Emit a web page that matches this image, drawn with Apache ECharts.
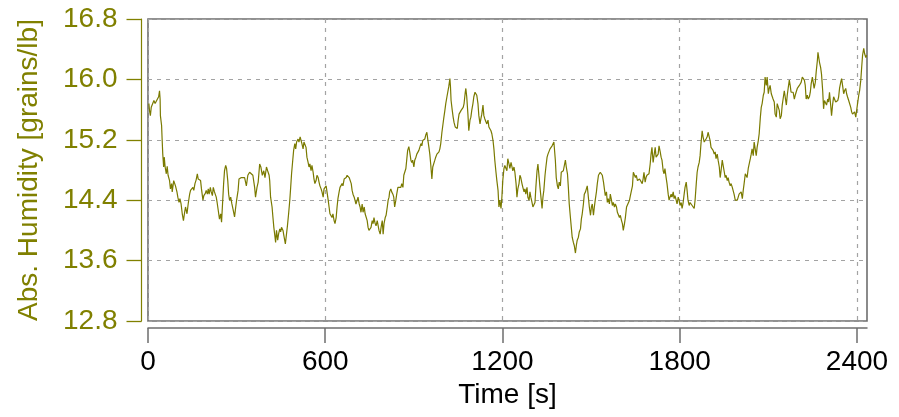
<!DOCTYPE html>
<html>
<head>
<meta charset="utf-8">
<script src="https://cdn.jsdelivr.net/npm/echarts@6/dist/echarts.min.js"></script>
<style>
  html, body { margin: 0; padding: 0; background: #fff; }
  #main { width: 899px; height: 417px; }
</style>
</head>
<body>
<div id="main"></div>
<script>
// [time s, abs. humidity grains/lb]
var seg1 = [[3,15.68],[5,15.59],[8,15.52],[11,15.63],[16,15.68],[20,15.72],[24,15.68],[28,15.71],[31,15.69],[36,15.77],[39,15.85],[41,15.74],[42,15.52],[46,15.39],[48,15.19],[50,15.01],[53,14.84],[55,14.97],[58,14.84],[62,14.75],[65,14.85],[68,14.73],[73,14.66],[76,14.55],[80,14.62],[82,14.51],[87,14.66],[90,14.68],[93,14.59],[98,14.51],[101,14.44],[105,14.37],[108,14.42],[112,14.35],[116,14.22],[120,14.13],[124,14.24],[127,14.31],[132,14.22],[136,14.35],[141,14.48],[144,14.53],[147,14.51],[152,14.57],[155,14.53],[159,14.62],[163,14.67],[167,14.75],[170,14.68],[175,14.70],[178,14.66],[181,14.55],[186,14.40],[189,14.46],[194,14.49],[197,14.53],[201,14.48],[204,14.55],[207,14.48],[211,14.57],[214,14.51],[218,14.46],[221,14.57],[225,14.51],[231,14.44],[234,14.37],[238,14.26],[242,14.15],[246,14.22],[249,14.11],[253,14.40],[256,14.62],[259,14.79],[263,14.86],[266,14.82],[270,14.66],[273,14.48],[276,14.40],[280,14.44],[284,14.35],[289,14.26],[293,14.18],[297,14.31],[300,14.40],[305,14.53],[308,14.68],[311,14.66],[316,14.70],[321,14.68],[327,14.70],[333,14.59],[338,14.73],[344,14.77],[350,14.75],[355,14.73],[361,14.57],[364,14.44],[369,14.57],[373,14.64],[378,14.88],[382,14.84],[387,14.73],[392,14.79],[396,14.70],[401,14.84],[405,14.79],[410,14.73]];

var seg2 = [[412,14.66],[415,14.44],[420,14.31],[423,14.17],[426,14.04],[430,13.91],[432,13.84],[435,14.00],[439,13.87],[442,13.95],[446,14.02],[449,13.98],[452,14.04],[457,14.00],[460,13.93],[465,13.82],[468,13.84],[472,14.06],[476,14.22],[480,14.40],[483,14.57],[486,14.75],[490,14.93],[493,15.06],[497,15.15],[500,15.08],[503,15.17],[508,15.21],[511,15.17],[515,15.24],[518,15.26],[521,15.15],[525,15.08],[528,15.17],[532,15.19],[535,15.10],[538,14.97],[542,14.90],[545,14.84],[548,14.88],[552,14.79],[555,14.86],[559,14.77],[562,14.68],[565,14.62],[569,14.66],[572,14.73],[576,14.70],[579,14.64],[582,14.59],[586,14.55],[589,14.51],[593,14.44],[596,14.55],[599,14.57],[603,14.59],[606,14.51],[610,14.40],[613,14.31],[616,14.22],[620,14.24],[623,14.17],[626,14.22],[630,14.13],[633,14.09],[637,14.17],[640,14.31],[643,14.42],[647,14.51],[650,14.57],[654,14.59],[657,14.62],[660,14.59],[664,14.68],[667,14.66],[671,14.70],[674,14.73],[677,14.75],[681,14.70],[684,14.68],[688,14.62],[691,14.53],[694,14.48],[698,14.44],[701,14.46],[704,14.35],[708,14.40],[711,14.44],[715,14.35],[718,14.31],[721,14.24],[725,14.35],[728,14.24],[732,14.31],[735,14.22],[738,14.20],[742,14.13],[745,14.04],[748,14.00],[752,13.98],[755,14.04],[759,14.13],[762,14.09],[765,14.17],[769,14.09],[772,14.06],[776,14.13],[779,14.11],[782,14.00],[786,13.95],[789,14.04],[793,14.13],[796,13.95],[799,14.09],[803,14.17],[806,14.20],[810,14.31],[813,14.40],[816,14.44]];

var seg3 = [[818,14.51],[822,14.55],[825,14.51],[829,14.48],[832,14.44],[835,14.31],[839,14.40],[842,14.48],[846,14.57],[849,14.55],[852,14.59],[856,14.57],[859,14.62],[863,14.57],[866,14.73],[869,14.75],[873,14.82],[876,14.84],[879,15.06],[883,15.11],[886,15.04],[890,14.93],[893,14.90],[896,14.93],[900,14.84],[903,14.93],[907,14.97],[910,15.01],[913,14.99],[917,15.06],[920,15.08],[924,15.15],[927,15.12],[930,15.19],[934,15.17],[937,15.21],[940,15.26],[944,15.30],[947,15.21],[951,15.10],[954,15.01],[957,14.88],[961,14.68],[964,14.84],[968,14.86],[971,14.93],[974,14.97],[978,15.01],[981,14.99],[985,15.04],[988,15.08],[991,15.15],[995,15.30],[998,15.39],[1001,15.48],[1005,15.59],[1008,15.68],[1012,15.77],[1015,15.79],[1018,15.90],[1022,16.01],[1024,15.90],[1026,15.72],[1030,15.59],[1033,15.50],[1036,15.43],[1040,15.37],[1043,15.39],[1047,15.35],[1050,15.46],[1053,15.54],[1057,15.52],[1060,15.59],[1064,15.61],[1067,15.63],[1070,15.68],[1074,15.83],[1076,15.88],[1079,15.77],[1083,15.54],[1086,15.32],[1090,15.46],[1093,15.50],[1096,15.59],[1100,15.68],[1103,15.77],[1107,15.83],[1110,15.83],[1113,15.79],[1117,15.68],[1120,15.52],[1124,15.41],[1127,15.48],[1130,15.54],[1134,15.66],[1137,15.52],[1140,15.48],[1144,15.50],[1147,15.41],[1151,15.46],[1154,15.37],[1157,15.39],[1161,15.32],[1164,15.28],[1168,15.19],[1171,15.08],[1174,14.93],[1178,14.77],[1181,14.66],[1185,14.53],[1188,14.31],[1191,14.40],[1195,14.29],[1198,14.44],[1201,14.66],[1205,14.82],[1208,14.86],[1212,14.82],[1215,14.79],[1218,14.95],[1222,14.88],[1225,14.82],[1229,14.90],[1232,14.88],[1235,14.79],[1239,14.84]];

var seg4 = [[1242,14.77],[1246,14.62],[1249,14.44],[1252,14.55],[1256,14.62],[1259,14.73],[1262,14.70],[1266,14.62],[1269,14.57],[1273,14.51],[1276,14.55],[1279,14.48],[1283,14.57],[1286,14.44],[1290,14.40],[1293,14.51],[1296,14.44],[1300,14.37],[1303,14.31],[1307,14.29],[1310,14.37],[1313,14.57],[1317,14.79],[1320,14.88],[1323,14.75],[1327,14.57],[1330,14.55],[1334,14.29],[1337,14.44],[1340,14.53],[1344,14.73],[1347,14.84],[1351,14.97],[1354,15.01],[1357,14.99],[1361,15.08],[1364,15.10],[1368,15.12],[1371,15.12],[1374,15.17],[1377,15.15],[1379,14.93],[1382,14.70],[1386,14.59],[1389,14.55],[1392,14.64],[1396,14.59],[1399,14.77],[1403,14.75],[1406,14.79],[1409,14.77],[1413,14.93],[1416,14.84],[1420,14.75],[1423,14.57],[1426,14.35],[1430,14.17],[1433,14.04],[1436,13.91],[1440,13.84],[1443,13.80],[1447,13.70],[1450,13.80],[1453,13.87],[1457,13.91],[1460,13.98],[1464,14.02],[1467,14.15],[1470,14.22],[1474,14.35],[1477,14.48],[1481,14.51],[1484,14.51],[1487,14.59],[1491,14.59],[1494,14.31],[1498,14.20],[1501,14.31],[1504,14.35],[1508,14.20],[1511,14.31],[1514,14.40],[1518,14.51],[1521,14.62],[1525,14.73],[1528,14.75],[1531,14.77],[1535,14.79],[1538,14.73],[1542,14.64],[1545,14.55],[1548,14.46],[1552,14.51],[1555,14.37],[1558,14.42],[1562,14.35],[1565,14.48],[1569,14.40],[1572,14.33],[1575,14.37],[1579,14.31],[1582,14.35],[1586,14.31],[1589,14.24],[1592,14.26],[1596,14.17],[1599,14.20],[1603,14.13],[1606,14.09],[1609,14.00],[1613,14.09],[1616,14.17],[1620,14.31],[1623,14.29],[1626,14.31],[1630,14.40],[1633,14.46],[1636,14.48],[1640,14.59],[1643,14.77],[1647,14.79],[1650,14.70],[1653,14.73],[1657,14.66],[1660,14.68],[1664,14.68]];

var seg5 = [[1666,14.70],[1669,14.66],[1673,14.62],[1676,14.68],[1679,14.77],[1683,14.64],[1686,14.70],[1689,14.73],[1693,14.75],[1696,14.75],[1700,14.88],[1703,15.01],[1706,15.10],[1710,14.90],[1713,14.99],[1717,15.10],[1720,14.97],[1723,14.95],[1727,15.01],[1730,15.12],[1734,15.04],[1737,14.97],[1740,14.93],[1744,14.79],[1747,14.75],[1750,14.82],[1754,14.70],[1757,14.62],[1761,14.48],[1764,14.40],[1767,14.44],[1771,14.48],[1774,14.44],[1778,14.51],[1781,14.42],[1784,14.46],[1788,14.40],[1791,14.35],[1795,14.44],[1798,14.40],[1801,14.33],[1805,14.37],[1808,14.29],[1811,14.35],[1815,14.48],[1818,14.57],[1822,14.64],[1825,14.53],[1828,14.40],[1832,14.33],[1835,14.37],[1839,14.35],[1842,14.33],[1845,14.35],[1849,14.29],[1852,14.40],[1856,14.62],[1859,14.77],[1862,14.84],[1866,14.90],[1869,14.99],[1872,15.15],[1876,15.32],[1879,15.24],[1883,15.17],[1886,15.19],[1889,15.21],[1893,15.24],[1896,15.30],[1900,15.32],[1903,15.19],[1906,15.10],[1910,15.08],[1913,15.06],[1917,15.01],[1920,15.04],[1923,14.95],[1927,15.01],[1930,14.93],[1934,14.84],[1937,14.70],[1940,14.79],[1944,14.93],[1947,14.86],[1951,14.77],[1954,14.70],[1957,14.73],[1961,14.66],[1964,14.70],[1967,14.64],[1971,14.59],[1974,14.62],[1978,14.57],[1981,14.55],[1984,14.48],[1988,14.40],[1991,14.42],[1995,14.40],[1998,14.44],[2001,14.48],[2005,14.46],[2008,14.51],[2012,14.42],[2015,14.53],[2018,14.62],[2022,14.75],[2025,14.73],[2028,14.70],[2032,14.82],[2035,14.84],[2039,14.95],[2042,15.01],[2045,15.08],[2049,14.99],[2052,15.17],[2056,15.19],[2059,14.99],[2062,15.10],[2066,15.19],[2069,15.28],[2073,15.50],[2076,15.63],[2079,15.68],[2083,15.79],[2086,15.83]];

var seg6 = [[2089,16.03],[2093,15.92],[2096,16.03],[2100,15.81],[2103,15.88],[2106,15.92],[2110,15.81],[2113,15.79],[2116,15.74],[2120,15.70],[2123,15.54],[2127,15.50],[2130,15.68],[2133,15.70],[2137,15.59],[2140,15.48],[2144,15.52],[2147,15.66],[2150,15.74],[2154,15.85],[2157,15.77],[2161,15.66],[2164,15.79],[2167,15.88],[2171,15.99],[2174,15.92],[2177,15.83],[2181,15.81],[2184,15.83],[2188,15.74],[2191,15.79],[2194,15.83],[2198,15.88],[2201,15.90],[2205,15.92],[2208,15.94],[2211,15.96],[2215,16.03],[2218,16.01],[2222,15.99],[2225,15.92],[2228,15.74],[2232,15.79],[2235,15.74],[2239,15.77],[2242,15.83],[2245,15.94],[2249,16.03],[2252,15.96],[2255,15.88],[2259,15.96],[2262,16.10],[2266,16.25],[2268,16.36],[2271,16.38],[2273,16.23],[2277,16.16],[2280,16.07],[2284,15.85],[2287,15.61],[2290,15.72],[2294,15.74],[2297,15.66],[2301,15.74],[2304,15.70],[2307,15.83],[2311,15.66],[2314,15.52],[2318,15.68],[2321,15.77],[2324,15.74],[2328,15.70],[2331,15.72],[2335,15.72],[2338,15.77],[2341,15.88],[2345,15.96],[2348,16.01],[2352,15.90],[2355,15.81],[2358,15.85],[2362,15.88],[2365,15.81],[2368,15.77],[2372,15.72],[2375,15.70],[2379,15.63],[2382,15.57],[2385,15.54],[2389,15.52],[2392,15.57],[2396,15.50],[2399,15.59],[2402,15.68],[2406,15.79],[2409,15.85],[2413,15.99],[2416,16.16],[2419,16.32],[2423,16.41],[2426,16.34],[2430,16.29],[2433,16.32]];

var xTicks = [0, 600, 1200, 1800, 2400];
var yMin = 12.8, yMax = 16.8, yStep = 0.8;
var tMax = 2434;

var olive = '#808000';
var frameGray = '#6e6e6e';
var gridGray = '#a3a3a3';
var font = 'Liberation Sans, Arial, sans-serif';

var humidity = seg1.concat(seg2, seg3, seg4, seg5, seg6);

var chartDom = document.getElementById('main');
var myChart = echarts.init(chartDom, null, { renderer: 'canvas' });
var option;

option = {
    animation: false,
    textStyle: { fontFamily: font },
    grid: {
        left: 148,
        top: 19,
        right: 32,
        bottom: 96,
        show: true,
        borderColor: frameGray,
        borderWidth: 1.6
    },
    xAxis: {
        type: 'value',
        min: 0,
        max: tMax,
        interval: 600,
        offset: 7,
        name: 'Time [s]',
        nameLocation: 'middle',
        nameGap: 50,
        nameTextStyle: { fontSize: 28, color: '#000', fontFamily: font },
        axisLine: { show: true, onZero: false, lineStyle: { color: frameGray, width: 1.5 } },
        axisTick: { show: true, length: 15, customValues: xTicks, lineStyle: { color: frameGray, width: 1.5 } },
        axisLabel: {
            fontSize: 28,
            color: '#000',
            margin: 20,
            customValues: xTicks,
            fontFamily: font,
            formatter: function (v) { return String(v); }
        },
        splitLine: { show: true, lineStyle: { color: gridGray, width: 1.2, type: [4, 5] } }
    },
    yAxis: {
        type: 'value',
        min: yMin,
        max: yMax,
        interval: yStep,
        offset: 6.5,
        name: 'Abs. Humidity [grains/lb]',
        nameLocation: 'middle',
        nameRotate: 90,
        nameGap: 98,
        nameTextStyle: { fontSize: 28, color: olive, fontFamily: font },
        axisLine: { show: true, onZero: false, lineStyle: { color: olive, width: 1.2 } },
        axisTick: { show: true, length: 15, lineStyle: { color: olive, width: 1.3 } },
        axisLabel: {
            fontSize: 28,
            color: olive,
            margin: 24,
            fontFamily: font,
            formatter: function (v) { return v.toFixed(1); }
        },
        splitLine: { show: true, lineStyle: { color: gridGray, width: 1.2, type: [4, 5] } }
    },
    series: [{
        type: 'line',
        data: humidity,
        showSymbol: false,
        sampling: null,
        lineStyle: { color: '#7a7a00', width: 1.2 },
        itemStyle: { color: olive }
    }]
};

option && myChart.setOption(option);
</script>
</body>
</html>
